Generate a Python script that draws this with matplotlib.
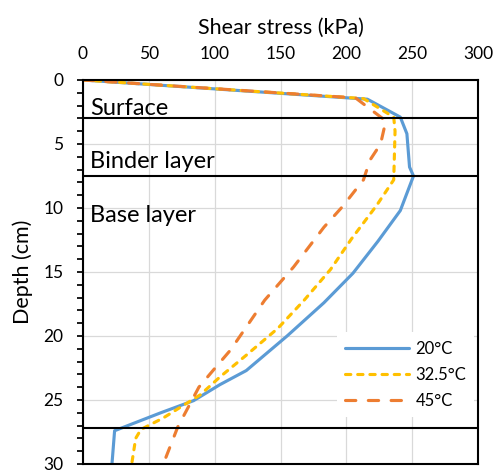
import matplotlib
matplotlib.use("Agg")
from matplotlib import pyplot as plt
from matplotlib.ticker import MultipleLocator

plt.rcParams['font.family'] = ['Lato', 'DejaVu Sans']

# shear stress (kPa) against depth (cm), one pair per temperature
depth_20 = [0, 1.5, 2.9, 4.2, 6.8, 7.5, 10.2, 12.6, 15.1, 17.4, 20.0, 22.7, 23.8, 25.05, 26.0, 27.4, 30]
stress_20 = [0, 216, 241, 246, 248, 251, 241, 224, 205, 183, 155, 124, 104, 84, 59, 24, 22]

depth_325 = [0, 1.45, 2.9, 4.0, 7.8, 9.8, 12.4, 14.8, 17.2, 19.4, 21.5, 23.2, 24.6, 26.4, 27.3, 28.0, 30]
stress_325 = [0, 213, 236, 237, 236, 223, 204, 188, 168, 148, 124, 104, 89, 61, 44, 40, 37]

depth_45 = [0, 1.4, 3.2, 5.0, 6.25, 7.8, 9.9, 11.5, 14.6, 17.2, 19.3, 21.1, 22.3, 24.0, 27.1, 30]
stress_45 = [0, 207, 230, 226, 218, 213, 197, 183, 160, 138, 124, 112, 102, 88, 72, 61]

series_labels = ["20°C", "32.5°C", "45°C"]

layer_bounds = [3, 7.5, 27.2]
layer_names = ["Surface", "Binder layer", "Base layer"]
layer_text_depth = [2.7, 6.9, 11.1]

########################## figure ##########################
fig = plt.figure(figsize=(4.93, 4.70), dpi=100)
ax = fig.add_axes([83 / 493, 6 / 470, 395 / 493, 384 / 470])

ax.plot(stress_20, depth_20, color='#5B9BD5', lw=2.25, label=series_labels[0],
        solid_capstyle='round', zorder=2)
l2, = ax.plot(stress_325, depth_325, color='#FFC000', lw=2.25, label=series_labels[1],
              dash_capstyle='round', zorder=2)
l2.set_dashes([1.7, 2.2])
l3, = ax.plot(stress_45, depth_45, color='#ED7D31', lw=2.25, label=series_labels[2],
              dash_capstyle='round', zorder=2)
l3.set_dashes([3.3, 4.0])

for b in layer_bounds:
    ax.axhline(b, color='black', lw=1.5, zorder=3)
for name, d in zip(layer_names, layer_text_depth):
    ax.text(5.3, d, name, fontsize=17, va='baseline', ha='left', zorder=4)

ax.set_xlim(0, 300)
ax.set_ylim(30, 0)
ax.xaxis.set_major_locator(MultipleLocator(50))
ax.yaxis.set_major_locator(MultipleLocator(5))
ax.yaxis.set_minor_locator(MultipleLocator(1))

ax.xaxis.tick_top()
ax.xaxis.set_label_position('top')
ax.tick_params(axis='x', length=0, pad=13, labelsize=12.5, labelcolor='black')
ax.tick_params(axis='y', which='both', direction='out', length=4, width=1.25,
               pad=10, labelsize=12.5)
ax.tick_params(axis='y', which='minor', length=4)

ax.grid(True, which='major', color='#D9D9D9', lw=0.9, zorder=0)
ax.set_axisbelow(True)
for s in ax.spines.values():
    s.set_linewidth(1.5)
    s.set_color('black')

ax.set_xlabel("Shear stress (kPa)", fontsize=15.5)
ax.xaxis.set_label_coords(0.5, 1.12)
ax.set_ylabel("Depth (cm)", fontsize=15.5)
ax.yaxis.set_label_coords(-0.127, 0.5)

leg = ax.legend(loc='upper left', bbox_to_anchor=(0.643, 0.343), fontsize=12,
                frameon=True, fancybox=False, edgecolor='none', facecolor='white',
                framealpha=1, handlelength=3.8, handletextpad=0.4, labelspacing=0.6,
                borderpad=0.5, borderaxespad=0)
leg.set_zorder(5)

plt.savefig("out.png", dpi=100)
